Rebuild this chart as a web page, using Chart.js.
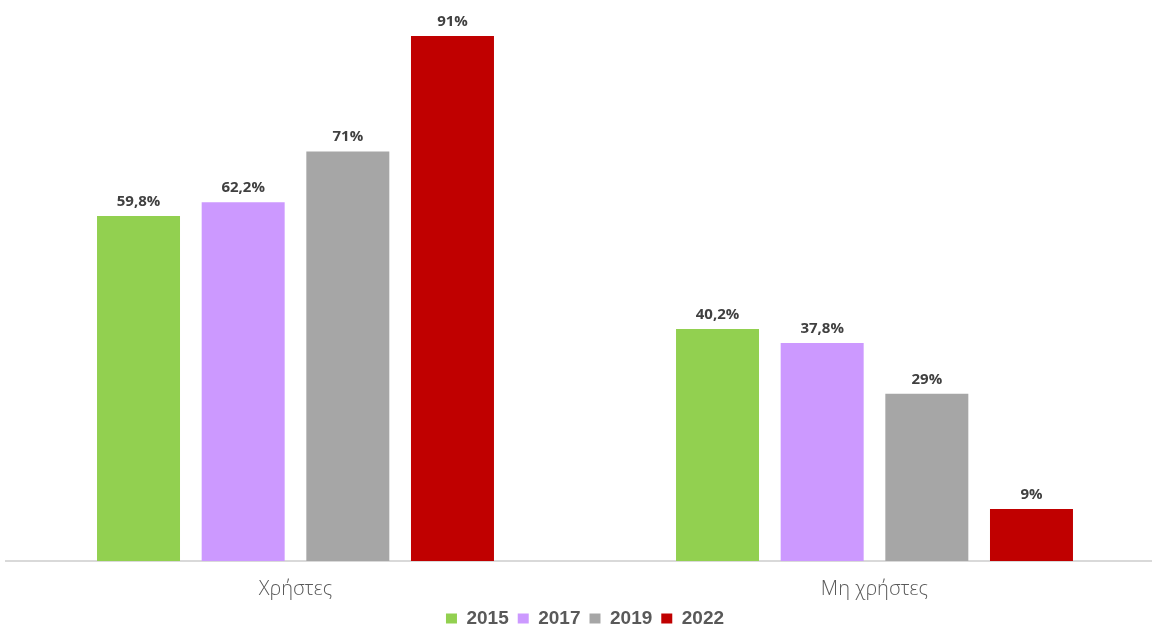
<!DOCTYPE html>
<html>
<head>
<meta charset="utf-8">
<script src="https://cdn.jsdelivr.net/npm/chart.js@4"></script>
<style>
html,body{margin:0;padding:0;overflow:hidden;background:#fff;width:1152px;height:628px;}
canvas{display:block;}
</style>
</head>
<body>
<canvas id="c" width="1164" height="638"></canvas>
<script>
const categories = ["Χρήστες", "Μη χρήστες"];
const years = ["2015", "2017", "2019", "2022"];
const values2015 = [59.8, 40.2];
const values2017 = [62.2, 37.8];
const values2019 = [71, 29];
const values2022 = [91, 9];
const colors = ["#92D050", "#CC99FF", "#A6A6A6", "#C00000"];

const seriesValues = [values2015, values2017, values2019, values2022];

function fmt(v){ return String(v).replace('.', ',') + '%'; }

const labelPlugin = {
  id: 'barLabels',
  afterDatasetsDraw(chart){
    const ctx = chart.ctx;
    ctx.save();
    ctx.fillStyle = '#404040';
    ctx.font = 'bold 15px "Open Sans", sans-serif';
    ctx.textAlign = 'center';
    ctx.textBaseline = 'alphabetic';
    chart.data.datasets.forEach((ds, i) => {
      const meta = chart.getDatasetMeta(i);
      meta.data.forEach((bar, j) => {
        ctx.fillText(fmt(ds.data[j]), bar.x, bar.y - 10);
      });
    });
    ctx.restore();
  }
};

new Chart(document.getElementById('c'), {
  type: 'bar',
  data: {
    labels: categories,
    datasets: years.map((y, i) => ({
      label: y,
      data: seriesValues[i],
      backgroundColor: colors[i],
      borderWidth: 0,
      categoryPercentage: 0.723,
      barPercentage: 0.793
    }))
  },
  options: {
    responsive: false,
    animation: false,
    layout: { padding: { top: 13, left: 6, right: 0, bottom: 0 } },
    plugins: {
      legend: {
        position: 'bottom',
        labels: {
          boxWidth: 11,
          boxHeight: 10,
          padding: 9,
          color: '#595959',
          font: { family: '"Liberation Sans", Arial, sans-serif', size: 19, weight: 'bold' }
        }
      },
      tooltip: { enabled: false }
    },
    scales: {
      x: {
        grid: { display: false, drawTicks: false },
        border: { display: true, color: '#D9D9D9', width: 2 },
        ticks: {
          color: '#595959',
          padding: 16,
          font: { family: '"Open Sans", sans-serif', size: 20, weight: '300' }
        },
        afterFit(scale) { scale.height = 39; }
      },
      y: {
        display: false,
        min: 0,
        max: 95
      }
    }
  },
  plugins: [labelPlugin]
});
</script>
</body>
</html>
